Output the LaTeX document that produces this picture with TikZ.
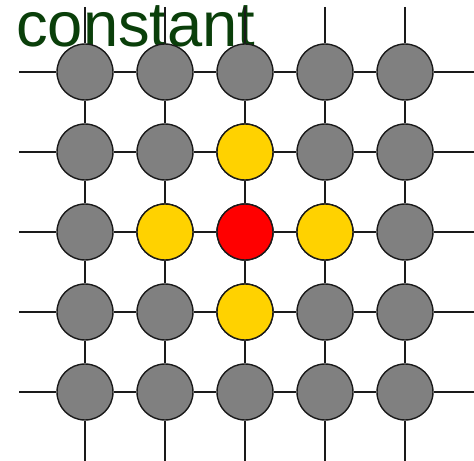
\documentclass[tikz,border=0pt]{standalone}
\usepackage{fontspec}
\setmainfont{Liberation Sans}
\usepackage{xcolor}
\definecolor{txtgreen} {HTML}{0A3F0A}
\definecolor{sitegray} {HTML}{808080}
\definecolor{siteyel}  {HTML}{FFD200}
\definecolor{sitered}  {HTML}{FF0000}
\definecolor{edgeink}  {HTML}{1A1A1A}

\begin{document}
\begin{tikzpicture}[x=1cm,y=1cm,
    site/.style={circle,draw=edgeink,line width=1pt,fill=sitegray,minimum size=1.4cm,inner sep=0pt},
    bond/.style={draw=edgeink,line width=1.3pt}]
    \useasboundingbox (0,0) rectangle (11.85,-11.525);
    \node[anchor=base west,inner sep=0pt,text=txtgreen,font=\fontsize{45}{45}\selectfont] (title) at (0.4,-1.16) {constant};
    \foreach \i in {1,...,5} {
      \foreach \j in {1,...,5} {
        \node[site] (s-\i-\j) at ({0.125+2*\i},{0.2-2*\j}) {};
      }
      \coordinate (west-\i) at (0.475,{0.2-2*\i});
      \coordinate (east-\i) at (11.85,{0.2-2*\i});
      \coordinate (north-\i) at ({0.125+2*\i},-0.175);
      \coordinate (south-\i) at ({0.125+2*\i},-11.525);
    }
    \node[site,fill=siteyel] at (s-3-2) {};
    \node[site,fill=siteyel] at (s-2-3) {};
    \node[site,fill=sitered] at (s-3-3) {};
    \node[site,fill=siteyel] at (s-4-3) {};
    \node[site,fill=siteyel] at (s-3-4) {};
    \foreach \k in {1,...,5} {
      \draw[bond] (west-\k) -- (s-1-\k) (s-1-\k) -- (s-2-\k) (s-2-\k) -- (s-3-\k) (s-3-\k) -- (s-4-\k) (s-4-\k) -- (s-5-\k) (s-5-\k) -- (east-\k);
      \draw[bond] (north-\k) -- (s-\k-1) (s-\k-1) -- (s-\k-2) (s-\k-2) -- (s-\k-3) (s-\k-3) -- (s-\k-4) (s-\k-4) -- (s-\k-5) (s-\k-5) -- (south-\k);
    }
  \end{tikzpicture}
\end{document}
